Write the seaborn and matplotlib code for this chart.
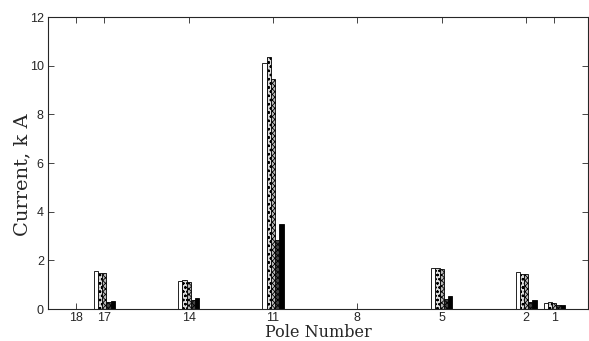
import numpy as np
import pandas as pd
import matplotlib
matplotlib.use("Agg")
import matplotlib.pyplot as plt
import seaborn as sns

# ----------------------------------------------------------------
# Data: current on each pole for five cases
# ----------------------------------------------------------------
poles = [18, 17, 16, 15, 14, 13, 12, 11, 10, 9, 8, 7, 6, 5, 4, 3, 2, 1]
case_1 = [0, 1.58, 0, 0, 1.15, 0, 0, 10.10, 0, 0, 0, 0, 0, 1.70, 0, 0, 1.52, 0.26]
case_2 = [0, 1.50, 0, 0, 1.18, 0, 0, 10.35, 0, 0, 0, 0, 0, 1.68, 0, 0, 1.45, 0.27]
case_3 = [0, 1.47, 0, 0, 1.12, 0, 0, 9.45, 0, 0, 0, 0, 0, 1.65, 0, 0, 1.42, 0.25]
case_4 = [0, 0.27, 0, 0, 0.35, 0, 0, 2.85, 0, 0, 0, 0, 0, 0.40, 0, 0, 0.30, 0.15]
case_5 = [0, 0.33, 0, 0, 0.47, 0, 0, 3.50, 0, 0, 0, 0, 0, 0.52, 0, 0, 0.38, 0.16]
case_names = ["Case 1", "Case 2", "Case 3", "Case 4", "Case 5"]
tick_poles = [18, 17, 14, 11, 8, 5, 2, 1]

series = [case_1, case_2, case_3, case_4, case_5]
df = pd.DataFrame({
    "Pole": np.tile(poles, len(series)),
    "Current": np.concatenate(series),
    "Case": np.repeat(case_names, len(poles)),
})

# ----------------------------------------------------------------
# Plot
# ----------------------------------------------------------------
sns.set_style("ticks")
plt.rcParams["hatch.linewidth"] = 0.6
fig = plt.figure(figsize=(5.89, 3.41), dpi=100)
ax = fig.add_axes([48 / 589, 1 - 309 / 341, 540 / 589, 292 / 341])

face = {"Case 1": "white", "Case 2": "#dddddd", "Case 3": "#bbbbbb",
        "Case 4": "#444444", "Case 5": "black"}
hatch = {"Case 1": None, "Case 2": "oooo", "Case 3": "xxxxxx",
         "Case 4": "xxxxxx", "Case 5": None}

# x axis is reversed, so reverse hue order to keep case 1 on the left
order = case_names[::-1]
sns.barplot(data=df, x="Pole", y="Current", hue="Case", hue_order=order,
            native_scale=True, palette=face, width=0.75, edgecolor="black",
            linewidth=0.6, legend=False, ax=ax, errorbar=None)

n = len(poles)
for i, bar in enumerate(ax.patches[:n * len(series)]):
    name = order[i // n]
    if hatch[name]:
        bar.set_hatch(hatch[name])

ax.set_xlim(19, -0.2)
ax.set_ylim(0, 12)
ax.set_xticks(tick_poles)
ax.set_xticklabels([str(p) for p in tick_poles], family="Liberation Sans", fontsize=9)
ax.set_yticks(range(0, 13, 2))
ax.set_yticklabels([str(v) for v in range(0, 13, 2)], family="Liberation Sans", fontsize=9)
ax.tick_params(direction="in", top=True, right=True, length=4, width=0.6, pad=3)
ax.tick_params(axis="x", pad=2)
for s in ax.spines.values():
    s.set_linewidth(0.8)

ax.set_xlabel("Pole Number", family="DejaVu Serif", fontsize=11.5)
ax.set_ylabel("Current, k A", family="DejaVu Serif", fontsize=14)
ax.xaxis.set_label_coords(0.5, -0.053)
ax.yaxis.set_label_coords(-0.03, 0.46)

fig.savefig("out.png", dpi=100)
